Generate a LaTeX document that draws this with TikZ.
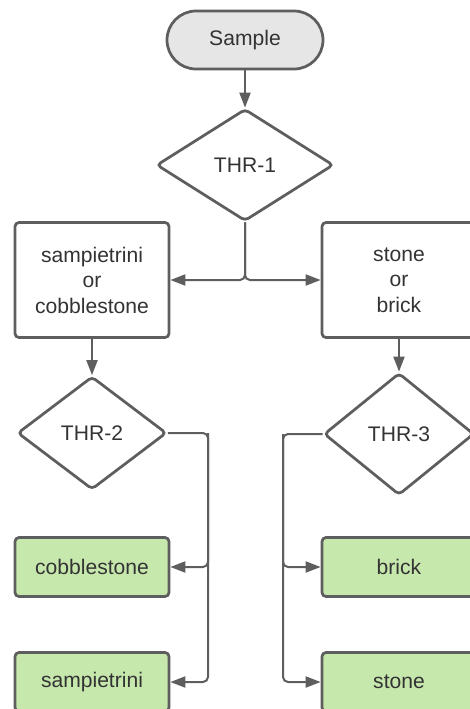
\documentclass[tikz,border=0pt]{standalone}
\usepackage{fontspec}
\setmainfont{Liberation Sans}
\usetikzlibrary{shapes.geometric, arrows.meta}
\definecolor{linegray}{HTML}{5E5E5E}
\definecolor{textgray}{HTML}{333333}
\definecolor{leafgreen}{HTML}{C7E8AD}
\definecolor{startgray}{HTML}{E6E6E6}

\begin{document}
\begin{tikzpicture}[x=0.2mm, y=-0.2mm, >={Triangle[length=3mm, width=2.2mm]},
        every node/.style={font=\fontsize{12}{14.5}\selectfont, text=textgray},
        terminal/.style={draw=linegray, line width=0.55mm, fill=startgray, rounded corners=5.8mm,
            minimum width=31.2mm, minimum height=11.6mm},
        decision/.style={diamond, draw=linegray, line width=0.55mm, rounded corners=0.8mm, inner sep=0pt},
        choice/.style={draw=linegray, line width=0.55mm, rounded corners=0.8mm, align=center,
            minimum width=30.8mm, minimum height=23mm},
        leaf/.style={draw=linegray, line width=0.55mm, fill=leafgreen, rounded corners=0.8mm,
            minimum width=30.8mm, minimum height=11.8mm},
        flow/.style={->, draw=linegray, line width=0.4mm, rounded corners=1mm}]

        \useasboundingbox (0, 0) rectangle (470, 709);

        % Top
        \node[terminal] (sample) at (245, 40) {Sample};
        \node[decision, minimum width=35.4mm, minimum height=22.4mm] (thr1) at (245, 165) {THR-1};
        \draw[flow] (sample) -- (thr1);

        % First split
        \node[choice] (mixed) at (92, 280) {sampietrini\\or\\cobblestone};
        \node[choice] (solid) at (399, 280) {stone\\or\\brick};
        \draw[flow] (thr1.south) |- (mixed.east);
        \draw[flow] (thr1.south) |- (solid.west);

        % Left branch
        \node[decision, minimum width=29.8mm, minimum height=22.6mm] (thr2) at (92, 433) {THR-2};
        \draw[flow] (mixed) -- (thr2);
        \node[leaf] (cobble) at (92, 567) {cobblestone};
        \node[leaf] (sampie) at (92, 682) {sampietrini};
        \coordinate (j2) at (208, 433);
        \draw[flow] (thr2.east) -- (j2) |- (cobble.east);
        \draw[flow] (j2) |- (sampie.east);

        % Right branch
        \node[decision, minimum width=30mm, minimum height=24.4mm] (thr3) at (399, 434) {THR-3};
        \draw[flow] (solid) -- (thr3);
        \node[leaf] (brick) at (399, 567) {brick};
        \node[leaf] (stone) at (399, 682) {stone};
        \coordinate (j3) at (283, 434);
        \draw[flow] (thr3.west) -- (j3) |- (brick.west);
        \draw[flow] (j3) |- (stone.west);
    \end{tikzpicture}
\end{document}
